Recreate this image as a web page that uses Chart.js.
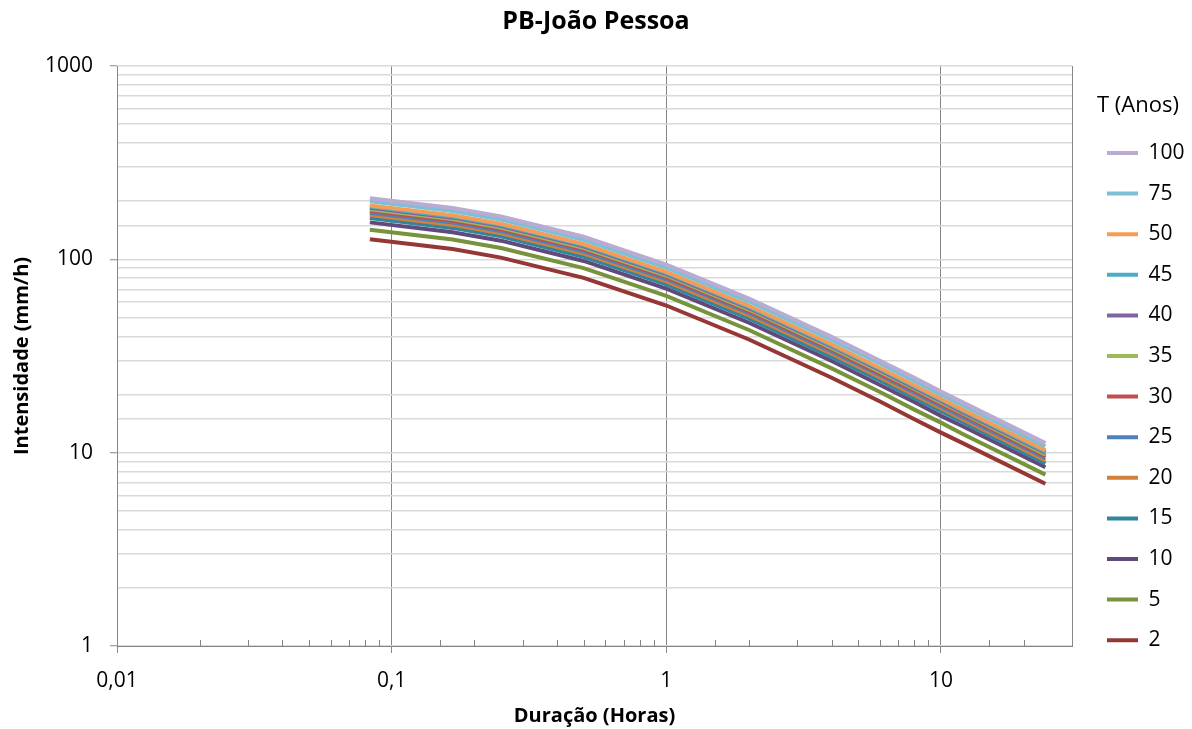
<!DOCTYPE html>
<html lang="pt-BR">
<head>
<meta charset="utf-8">
<title>PB-João Pessoa</title>
<script src="https://cdn.jsdelivr.net/npm/chart.js@4.4.1/dist/chart.umd.min.js"></script>
<style>
    body { margin: 0; background: #fff; }
    #caixa { width: 1192px; height: 729px; }
</style>
</head>
<body>
<div id="caixa"><canvas id="grafico"></canvas></div>
<script>
// Durações em horas (5, 10, 15, 30 min, 1 h ... 24 h)
const duracoes = [0.0833, 0.1667, 0.25, 0.5, 1, 2, 4, 6, 8, 10, 12, 24];

// Períodos de retorno (legenda)
const periodos = ['100', '75', '50', '45', '40', '35', '30', '25', '20', '15', '10', '5', '2'];

// Intensidades (mm/h)
const i100 = [207.1, 184.3, 166.5, 130.8, 94.0, 62.7, 39.7, 29.9, 24.4, 20.7, 18.2, 11.2];
const i75  = [199.8, 177.8, 160.7, 126.2, 90.7, 60.5, 38.3, 28.9, 23.5, 20.0, 17.6, 10.8];
const i50  = [189.9, 169.0, 152.7, 120.0, 86.2, 57.5, 36.4, 27.4, 22.3, 19.0, 16.7, 10.3];
const i45  = [187.4, 166.7, 150.7, 118.4, 85.1, 56.8, 35.9, 27.1, 22.0, 18.8, 16.5, 10.1];
const i40  = [184.7, 164.3, 148.5, 116.7, 83.9, 55.9, 35.4, 26.7, 21.7, 18.5, 16.2, 10.0];
const i35  = [181.6, 161.6, 146.0, 114.7, 82.5, 55.0, 34.8, 26.2, 21.4, 18.2, 16.0, 9.8];
const i30  = [178.2, 158.5, 143.3, 112.6, 80.9, 54.0, 34.2, 25.7, 21.0, 17.8, 15.7, 9.6];
const i25  = [174.2, 155.0, 140.1, 110.0, 79.1, 52.8, 33.4, 25.2, 20.5, 17.4, 15.3, 9.4];
const i20  = [169.4, 150.7, 136.2, 107.0, 76.9, 51.3, 32.5, 24.5, 19.9, 17.0, 14.9, 9.1];
const i15  = [163.4, 145.4, 131.4, 103.2, 74.2, 49.5, 31.3, 23.6, 19.2, 16.4, 14.4, 8.8];
const i10  = [155.3, 138.2, 124.9, 98.1, 70.5, 47.0, 29.8, 22.4, 18.3, 15.5, 13.7, 8.4];
const i5   = [142.4, 126.7, 114.5, 90.0, 64.7, 43.1, 27.3, 20.6, 16.7, 14.3, 12.5, 7.7];
const i2   = [127.0, 113.0, 102.1, 80.2, 57.7, 38.5, 24.4, 18.4, 14.9, 12.7, 11.2, 6.9];

const intensidades = [i100, i75, i50, i45, i40, i35, i30, i25, i20, i15, i10, i5, i2];

const cores = ['#B9ABD2', '#7CC0D8', '#F59D56', '#4BACC6', '#8064A2', '#9BBB59', '#C0504D',
               '#4F81BD', '#D3803A', '#31859C', '#604A7B', '#77933C', '#953735'];

const fonte = 'Open Sans';
const cinza = '#868686';

// verifica se o valor é potência de 10
const ehPotencia10 = v => Math.abs(Math.log10(v) - Math.round(Math.log10(v))) < 1e-6;

const datasets = periodos.map((p, k) => ({
    label: p,
    data: duracoes.map((d, j) => ({ x: d, y: intensidades[k][j] })),
    borderColor: cores[k],
    backgroundColor: cores[k],
    borderWidth: 4,
    pointRadius: 0,
    tension: 0
}));

// Ajusta largura e posição da legenda
const ajusteLegenda = {
    id: 'ajusteLegenda',
    beforeInit(chart) {
        const fitOriginal = chart.legend.fit;
        chart.legend.fit = function () {
            fitOriginal.call(this);
            this.width = 120;
        };
    },
    afterLayout(chart) {
        const leg = chart.legend;
        leg.left = chart.chartArea.right + 15.4;
        leg.width = 101;
        leg.right = leg.left + leg.width;
        leg.top = 66;
        leg.bottom = 729;
    }
};

// Marcas menores do eixo X (para dentro)
const marcasMenores = {
    id: 'marcasMenores',
    afterDraw(chart) {
        const { ctx, chartArea, scales } = chart;
        const x = scales.x;
        ctx.save();
        ctx.strokeStyle = cinza;
        ctx.lineWidth = 1;
        x.ticks.forEach(t => {
            if (ehPotencia10(t.value) || t.value >= x.max - 1e-6) return;
            const px = Math.round(x.getPixelForValue(t.value)) + 0.5;
            ctx.beginPath();
            ctx.moveTo(px, chartArea.bottom);
            ctx.lineTo(px, chartArea.bottom - 6);
            ctx.stroke();
        });
        ctx.restore();
    }
};

Chart.defaults.color = '#000';
Chart.defaults.font.family = fonte;

new Chart(document.getElementById('grafico'), {
    type: 'line',
    data: { datasets: datasets },
    plugins: [ajusteLegenda, marcasMenores],
    options: {
        responsive: true,
        maintainAspectRatio: false,
        animation: false,
        layout: { padding: 0 },
        plugins: {
            title: {
                display: true,
                text: 'PB-João Pessoa',
                font: { family: fonte, size: 25, weight: 'bold' },
                color: '#000',
                padding: { top: 7, bottom: 29 }
            },
            legend: {
                position: 'right',
                align: 'start',
                labels: {
                    boxWidth: 31,
                    boxHeight: 4,
                    padding: 19.6,
                    color: '#000',
                    font: { family: fonte, size: 21 },
                    generateLabels: chart =>
                        Chart.defaults.plugins.legend.labels.generateLabels(chart)
                            .map(l => Object.assign(l, { lineWidth: 0 }))
                },
                title: {
                    display: true,
                    text: 'T (Anos)',
                    color: '#000',
                    font: { family: fonte, size: 22 },
                    padding: { top: 29, bottom: 1.5 }
                }
            },
            tooltip: { enabled: false }
        },
        scales: {
            x: {
                type: 'logarithmic',
                min: 0.01,
                max: 30,
                afterFit: s => { s.height = 83; },
                border: { color: cinza },
                grid: {
                    color: c => (c.tick && (ehPotencia10(c.tick.value) || c.tick.value >= 29.99)) ? cinza : 'rgba(0,0,0,0)',
                    tickColor: c => (c.tick && ehPotencia10(c.tick.value)) ? cinza : 'rgba(0,0,0,0)',
                    tickLength: 7,
                    tickWidth: 1
                },
                ticks: {
                    autoSkip: false,
                    maxRotation: 0,
                    padding: 15,
                    color: '#000',
                    font: { family: fonte, size: 21 },
                    callback: v => ehPotencia10(v) ? String(v).replace('.', ',') : ''
                },
                title: {
                    display: true,
                    text: 'Duração (Horas)',
                    color: '#000',
                    font: { family: fonte, size: 20, weight: 'bold' },
                    padding: { top: 0, bottom: 1 }
                }
            },
            y: {
                type: 'logarithmic',
                min: 1,
                max: 1000,
                afterFit: s => { s.width = 117; },
                border: { color: cinza },
                grid: {
                    color: '#D9D9D9',
                    lineWidth: 1.5,
                    tickColor: c => (c.tick && ehPotencia10(c.tick.value)) ? cinza : 'rgba(0,0,0,0)',
                    tickLength: 7,
                    tickWidth: 1
                },
                ticks: {
                    autoSkip: false,
                    padding: 17,
                    color: '#000',
                    font: { family: fonte, size: 21 },
                    callback: v => ehPotencia10(v) ? String(v) : ''
                },
                title: {
                    display: true,
                    text: 'Intensidade (mm/h)',
                    color: '#000',
                    font: { family: fonte, size: 20, weight: 'bold' },
                    padding: { top: 10, bottom: 0 }
                }
            }
        }
    }
});
</script>
</body>
</html>
